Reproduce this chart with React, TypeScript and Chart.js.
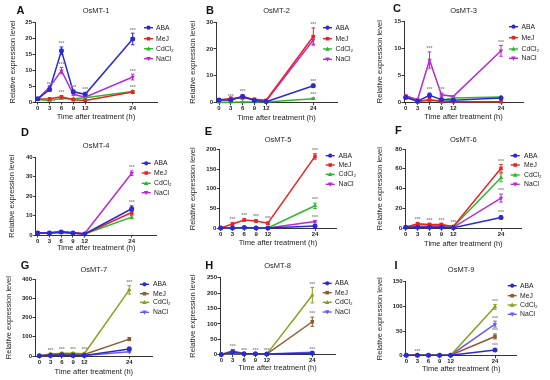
import React, { useEffect, useRef } from 'react';
import { Chart, registerables } from 'chart.js';

Chart.register(...registerables);

// ---------------- DATA ----------------
const times = [0, 3, 6, 9, 12, 24];
const xTickValues = [0, 3, 6, 9, 12, 24];
const seriesNames = ['ABA', 'MeJ', 'CdCl₂', 'NaCl'];
const panelTitles = ['OsMT-1', 'OsMT-2', 'OsMT-3', 'OsMT-4', 'OsMT-5', 'OsMT-6', 'OsMT-7', 'OsMT-8', 'OsMT-9'];
const panelLetters = ['A', 'B', 'C', 'D', 'E', 'F', 'G', 'H', 'I'];
const yMaxes = [25, 30, 15, 40, 200, 80, 400, 250, 150];
const ySteps = [5, 10, 5, 10, 50, 20, 100, 50, 50];

// means: [ABA, MeJ, CdCl2, NaCl]
const mt1Mean = [
  [1.0, 3.9, 16.0, 3.2, 2.4, 19.7],
  [0.9, 1.0, 1.6, 0.7, 0.5, 3.1],
  [0.8, 0.5, 1.1, 1.0, 1.3, 3.3],
  [1.0, 4.6, 9.8, 2.4, 1.5, 7.8],
];
const mt1Err = [
  [0.2, 0.5, 1.2, 0.4, 0.6, 1.8],
  [0.1, 0.2, 0.4, 0.2, 0.2, 0.4],
  [0.1, 0.1, 0.2, 0.2, 0.2, 0.3],
  [0.1, 0.5, 1.0, 0.3, 0.2, 0.9],
];
const mt2Mean = [
  [1.0, 1.0, 2.3, 0.8, 0.4, 6.3],
  [1.0, 1.6, 1.8, 1.3, 0.9, 24.6],
  [0.2, 0.2, 0.3, 0.3, 0.3, 1.5],
  [1.2, 1.0, 2.4, 1.0, 0.6, 23.3],
];
const mt2Err = [
  [0.3, 0.3, 0.6, 0.3, 0.2, 0.6],
  [0.2, 0.5, 0.4, 0.3, 0.2, 3.2],
  [0.05, 0.05, 0.1, 0.1, 0.1, 0.3],
  [0.2, 0.3, 0.5, 0.3, 0.2, 1.5],
];
const mt3Mean = [
  [0.9, 0.2, 1.3, 0.5, 0.4, 0.8],
  [1.1, 0.1, 0.5, 0.1, 0.1, 0.1],
  [1.0, 0.3, 0.3, 0.4, 0.8, 1.0],
  [1.2, 0.5, 7.8, 1.4, 1.1, 9.5],
];
const mt3Err = [
  [0.1, 0.05, 0.4, 0.1, 0.1, 0.1],
  [0.1, 0.02, 0.1, 0.02, 0.02, 0.02],
  [0.1, 0.05, 0.05, 0.1, 0.1, 0.1],
  [0.1, 0.1, 1.5, 0.3, 0.1, 1.0],
];
const mt4Mean = [
  [1.0, 1.0, 1.6, 1.0, 0.5, 13.5],
  [1.0, 1.1, 1.5, 1.0, 0.5, 11.6],
  [1.0, 1.0, 1.2, 0.8, 0.5, 9.2],
  [1.0, 1.2, 1.8, 1.3, 0.8, 31.8],
];
const mt4Err = [
  [0.2, 0.2, 0.3, 0.2, 0.1, 1.5],
  [0.2, 0.2, 0.3, 0.2, 0.1, 1.0],
  [0.2, 0.2, 0.2, 0.2, 0.1, 0.8],
  [0.2, 0.2, 0.3, 0.2, 0.1, 1.2],
];
const mt5Mean = [
  [1, 1, 2, 1, 1, 6],
  [1, 11, 21, 18.5, 12.7, 182],
  [1, 1, 1.5, 1, 1, 57],
  [1, 1, 1, 1, 1, 17],
];
const mt5Err = [
  [0.2, 0.3, 0.5, 0.3, 0.3, 3],
  [0.2, 3, 3, 3, 3, 7],
  [0.2, 0.3, 0.3, 0.3, 0.3, 7],
  [0.2, 0.3, 0.3, 0.3, 0.3, 3],
];
const mt6Mean = [
  [1, 1, 1, 1, 0.5, 11],
  [1, 4.5, 3.8, 3.8, 1.8, 60.5],
  [1, 3.8, 3.2, 3.3, 1.5, 51],
  [1, 1.8, 1.8, 1.8, 1, 30.5],
];
const mt6Err = [
  [0.2, 0.3, 0.3, 0.3, 0.2, 1.5],
  [0.2, 1.5, 1.2, 1.2, 0.8, 4],
  [0.2, 1.2, 1, 1, 0.6, 4],
  [0.2, 0.4, 0.4, 0.4, 0.3, 4],
];
const mt7Mean = [
  [1, 3, 5, 3, 2, 36],
  [1, 8, 10, 9, 8, 88],
  [1, 10, 14, 14, 12, 345],
  [1, 3, 5, 4, 3, 22],
];
const mt7Err = [
  [0.3, 1, 2, 1, 1, 10],
  [0.3, 2, 3, 3, 2, 8],
  [0.3, 4, 5, 5, 4, 22],
  [0.3, 1, 1, 1, 1, 5],
];
const mt8Mean = [
  [1, 8, 3, 3, 2, 5],
  [1, 13, 3, 3, 2, 107],
  [1, 5, 3, 3, 2, 193],
  [1, 5, 2, 2, 2, 8],
];
const mt8Err = [
  [0.3, 2, 1, 1, 1, 2],
  [0.3, 4, 1, 1, 1, 15],
  [0.3, 2, 1, 1, 1, 25],
  [0.3, 2, 1, 1, 1, 3],
];
const mt9Mean = [
  [1, 1, 1, 1, 1, 11.5],
  [1, 1, 1, 1, 1, 39],
  [1, 1.5, 1, 1, 1, 99],
  [1, 1, 1, 1, 1, 64],
];
const mt9Err = [
  [0.2, 0.3, 0.2, 0.2, 0.2, 2],
  [0.2, 0.3, 0.2, 0.2, 0.2, 5],
  [0.2, 0.5, 0.2, 0.2, 0.2, 5],
  [0.2, 0.3, 0.2, 0.2, 0.2, 6],
];
// significance marks: [seriesIndex, timeIndex]
const mt1Stars = [[0, 1], [0, 2], [3, 2], [1, 2], [0, 3], [0, 4], [0, 5], [3, 5], [1, 5]];
const mt2Stars = [[0, 1], [0, 2], [1, 5], [0, 5], [2, 5]];
const mt3Stars = [[3, 2], [3, 5], [0, 2], [3, 3]];
const mt4Stars = [[3, 5], [0, 5]];
const mt5Stars = [[1, 1], [1, 2], [1, 3], [1, 4], [1, 5], [2, 5], [3, 5]];
const mt6Stars = [[1, 1], [1, 2], [1, 3], [1, 4], [1, 5], [3, 5], [0, 5]];
const mt7Stars = [[2, 1], [2, 2], [2, 3], [2, 4], [2, 5]];
const mt8Stars = [[1, 1], [1, 2], [1, 3], [1, 4], [2, 5], [1, 5], [0, 5]];
const mt9Stars = [[2, 1], [2, 5], [3, 5], [1, 5], [0, 5]];

const allMeans = [mt1Mean, mt2Mean, mt3Mean, mt4Mean, mt5Mean, mt6Mean, mt7Mean, mt8Mean, mt9Mean];
const allErrs = [mt1Err, mt2Err, mt3Err, mt4Err, mt5Err, mt6Err, mt7Err, mt8Err, mt9Err];
const allStars = [mt1Stars, mt2Stars, mt3Stars, mt4Stars, mt5Stars, mt6Stars, mt7Stars, mt8Stars, mt9Stars];

// ---------------- STYLE / LAYOUT ----------------
const FONT = "'Liberation Sans', Arial, Helvetica, sans-serif";
const colorsTop = ['#2a2ad2', '#e62424', '#2bb82b', '#b42cd4'];
const colorsBottom = ['#2a2ad2', '#8e5a2e', '#86a01e', '#6a5cf0'];
const pointStyles = ['circle', 'rect', 'up', 'down'];
const CANVAS_H = 130;

type Geo = {
  cell: [number, number, number];
  area: [number, number, number, number];
  x0: number; x24: number;
  titleY: number; letter: [number, number];
  yTitleX: number; xTitleY: number;
  legLine: number; legText: number; legRows: number[];
};

const geos: Geo[] = [
  { cell: [0, 0, 183], area: [35, 22, 157, 102], x0: 37.7, x24: 132.7, titleY: 11, letter: [20.5, 11], yTitleX: 12.5, xTitleY: 117.3, legLine: 144, legText: 156, legRows: [27.7, 38.7, 48.7, 58.7] },
  { cell: [183, 0, 183], area: [216, 22, 337, 102.7], x0: 219, x24: 313.3, titleY: 11, letter: [210, 11], yTitleX: 193.3, xTitleY: 118.3, legLine: 323, legText: 335.5, legRows: [27.7, 38.7, 49, 59.3] },
  { cell: [366, 0, 184], area: [404, 21, 523, 102.3], x0: 405.7, x24: 501, titleY: 11, letter: [397, 8.5], yTitleX: 380, xTitleY: 117.3, legLine: 509, legText: 521.5, legRows: [26.7, 37.7, 49, 58.3] },
  { cell: [0, 125, 183], area: [35.7, 157.3, 156.7, 235], x0: 37.7, x24: 131.7, titleY: 145.7, letter: [25, 133], yTitleX: 11.7, xTitleY: 248, legLine: 141.7, legText: 154, legRows: [163.3, 173, 183.3, 192.7] },
  { cell: [183, 125, 183], area: [219.3, 149.3, 336.7, 228.3], x0: 220.7, x24: 315, titleY: 140, letter: [208.3, 132], yTitleX: 193.3, xTitleY: 243.3, legLine: 325.7, legText: 338.5, legRows: [155.7, 165, 174.3, 184.3] },
  { cell: [366, 125, 184], area: [405, 149, 521.7, 228.3], x0: 405.7, x24: 501, titleY: 140, letter: [398.3, 130.5], yTitleX: 380, xTitleY: 244, legLine: 510.7, legText: 524, legRows: [155.7, 165, 175, 184.3] },
  { cell: [0, 250, 183], area: [35, 279.3, 152.7, 356], x0: 39.3, x24: 129.3, titleY: 270, letter: [25, 265.5], yTitleX: 9.3, xTitleY: 371.7, legLine: 140, legText: 153, legRows: [284.3, 293.7, 302.3, 312.3] },
  { cell: [183, 250, 183], area: [220, 277.7, 335, 354.7], x0: 221.3, x24: 312.3, titleY: 265.7, letter: [209.3, 265.5], yTitleX: 192.7, xTitleY: 368.3, legLine: 322.7, legText: 335, legRows: [283.3, 292.7, 302.3, 312] },
  { cell: [366, 250, 184], area: [405.7, 281.7, 516.7, 355.7], x0: 406.3, x24: 495, titleY: 270, letter: [396, 266.3], yTitleX: 380, xTitleY: 369, legLine: 507.7, legText: 520, legRows: [285.7, 295.7, 305, 314.3] },
];

function drawMarker(ctx: CanvasRenderingContext2D, style: string, x: number, y: number, r: number, color: string) {
  ctx.fillStyle = color;
  ctx.beginPath();
  if (style === 'circle') ctx.arc(x, y, r, 0, Math.PI * 2);
  else if (style === 'rect') ctx.rect(x - r * 0.85, y - r * 0.85, r * 1.7, r * 1.7);
  else if (style === 'up') { ctx.moveTo(x, y - r * 1.15); ctx.lineTo(x + r * 1.1, y + r * 0.8); ctx.lineTo(x - r * 1.1, y + r * 0.8); ctx.closePath(); }
  else { ctx.moveTo(x, y + r * 1.15); ctx.lineTo(x + r * 1.1, y - r * 0.8); ctx.lineTo(x - r * 1.1, y - r * 0.8); ctx.closePath(); }
  ctx.fill();
}

function buildConfig(idx: number): any {
  const g = geos[idx];
  const [cx, cy, cw] = g.cell;
  const [L, T, R, B] = g.area;
  const l = L - cx, t = T - cy, r = R - cx, b = B - cy;
  const ppu = (g.x24 - g.x0) / 24;
  const xMin = -(g.x0 - L) / ppu;
  const xMax = (R - g.x0) / ppu;
  const colors = idx >= 6 ? colorsBottom : colorsTop;
  const means = allMeans[idx];
  const errs = allErrs[idx];
  const stars = allStars[idx];

  const titleSize = 7.5;
  const lh = titleSize * 1.2;
  const titlePadTop = (g.titleY - cy) - lh / 2;
  const titlePadBottom = t - lh - titlePadTop;
  const yTitlePad = (g.yTitleX - cx) - lh / 2;
  const xTitlePad = CANVAS_H - (g.xTitleY - cy) - lh / 2;

  const decor = {
    id: 'decor' + idx,
    beforeDatasetsDraw(chart: any) {
      const ctx = chart.ctx as CanvasRenderingContext2D;
      const xs = chart.scales.x, ys = chart.scales.y;
      ctx.save();
      errs.forEach((row, i) => {
        ctx.strokeStyle = colors[i];
        ctx.lineWidth = 1;
        row.forEach((e, j) => {
          const m = means[i][j];
          const x = xs.getPixelForValue(times[j]);
          const yt = ys.getPixelForValue(m + e);
          const yb = ys.getPixelForValue(Math.max(0, m - e));
          ctx.beginPath();
          ctx.moveTo(x, yt); ctx.lineTo(x, yb);
          ctx.moveTo(x - 1.8, yt); ctx.lineTo(x + 1.8, yt);
          ctx.moveTo(x - 1.8, yb); ctx.lineTo(x + 1.8, yb);
          ctx.stroke();
        });
      });
      ctx.restore();
    },
    afterDatasetsDraw(chart: any) {
      const ctx = chart.ctx as CanvasRenderingContext2D;
      const xs = chart.scales.x, ys = chart.scales.y;
      ctx.save();
      ctx.fillStyle = '#8a8a8a';
      ctx.font = `bold 5px ${FONT}`;
      ctx.textAlign = 'center';
      ctx.textBaseline = 'bottom';
      stars.forEach(([i, j]) => {
        const x = xs.getPixelForValue(times[j]);
        const yt = ys.getPixelForValue(means[i][j] + errs[i][j]);
        ctx.fillText('***', x, yt - 0.5);
      });
      ctx.restore();
    },
    afterDraw(chart: any) {
      const ctx = chart.ctx as CanvasRenderingContext2D;
      ctx.save();
      // legend
      seriesNames.forEach((name, i) => {
        const y = g.legRows[i] - cy;
        const x1 = g.legLine - cx;
        ctx.strokeStyle = colors[i];
        ctx.lineWidth = 1.4;
        ctx.beginPath();
        ctx.moveTo(x1, y); ctx.lineTo(x1 + 9, y);
        ctx.stroke();
        drawMarker(ctx, pointStyles[i], x1 + 4.5, y, 2.1, colors[i]);
        ctx.fillStyle = '#222';
        ctx.font = `6.8px ${FONT}`;
        ctx.textAlign = 'left';
        ctx.textBaseline = 'middle';
        ctx.fillText(name, g.legText - cx, y + 0.3);
      });
      // panel letter
      ctx.fillStyle = '#111';
      ctx.font = `bold 11px ${FONT}`;
      ctx.textAlign = 'center';
      ctx.textBaseline = 'middle';
      ctx.fillText(panelLetters[idx], g.letter[0] - cx, g.letter[1] - cy);
      ctx.restore();
    },
  };

  const datasets = means.map((vals, i) => ({
    label: seriesNames[i],
    data: times.map((tm, k) => ({ x: tm, y: vals[k] })),
    borderColor: colors[i],
    backgroundColor: colors[i],
    borderWidth: 1.5,
    pointRadius: 2.5,
    pointBorderWidth: 0,
    pointStyle: i === 0 ? 'circle' : i === 1 ? 'rect' : 'triangle',
    pointRotation: i === 3 ? 180 : 0,
    tension: 0,
    clip: false,
  }));

  return {
    type: 'line',
    data: { datasets },
    plugins: [decor],
    options: {
      animation: false,
      responsive: false,
      maintainAspectRatio: false,
      devicePixelRatio: 1,
      events: [],
      layout: { padding: { left: 0, top: 0, bottom: 0, right: cw - r } },
      plugins: {
        legend: { display: false },
        tooltip: { enabled: false },
        title: {
          display: true,
          text: panelTitles[idx],
          fullSize: false,
          color: '#222',
          font: { family: FONT, size: titleSize, lineHeight: 1.2, weight: 'normal' },
          padding: { top: titlePadTop, bottom: titlePadBottom },
        },
      },
      scales: {
        x: {
          type: 'linear',
          min: xMin,
          max: xMax,
          afterFit: (s: any) => { s.height = CANVAS_H - b; },
          afterBuildTicks: (s: any) => { s.ticks = xTickValues.map((v) => ({ value: v })); },
          ticks: {
            color: '#222',
            font: { family: FONT, size: 6, weight: 'bold', lineHeight: 1.2 },
            padding: 0,
            maxRotation: 0,
            autoSkip: false,
          },
          grid: { display: true, drawOnChartArea: false, drawTicks: true, tickLength: 2.5, color: '#333', lineWidth: 1 },
          border: { display: true, color: '#333', width: 1 },
          title: {
            display: true,
            text: 'Time after treatment (h)',
            color: '#222',
            font: { family: FONT, size: titleSize, lineHeight: 1.2 },
            padding: { top: 0, bottom: xTitlePad },
          },
        },
        y: {
          type: 'linear',
          min: 0,
          max: yMaxes[idx],
          afterFit: (s: any) => { s.width = l; },
          ticks: {
            stepSize: ySteps[idx],
            color: '#222',
            font: { family: FONT, size: 6, weight: 'bold', lineHeight: 1.2 },
            padding: 0.5,
          },
          grid: { display: true, drawOnChartArea: false, drawTicks: true, tickLength: 2.5, color: '#333', lineWidth: 1 },
          border: { display: true, color: '#333', width: 1 },
          title: {
            display: true,
            text: 'Relative expression level',
            color: '#222',
            font: { family: FONT, size: titleSize, lineHeight: 1.2 },
            padding: { top: yTitlePad, bottom: 0 },
          },
        },
      },
    },
  };
}

function Panel({ idx }: { idx: number }) {
  const ref = useRef<HTMLCanvasElement | null>(null);
  useEffect(() => {
    if (!ref.current) return;
    const chart = new Chart(ref.current, buildConfig(idx));
    return () => chart.destroy();
  }, [idx]);
  const [cx, cy, cw] = geos[idx].cell;
  return (
    <canvas
      ref={ref}
      width={cw}
      height={CANVAS_H}
      style={{ position: 'absolute', left: cx, top: cy, width: cw, height: CANVAS_H }}
    />
  );
}

export default function App() {
  return (
    <div style={{ position: 'absolute', left: 0, top: 0, width: 550, height: 380, background: '#ffffff', overflow: 'hidden' }}>
      {panelTitles.map((_, i) => (
        <Panel key={i} idx={i} />
      ))}
    </div>
  );
}
